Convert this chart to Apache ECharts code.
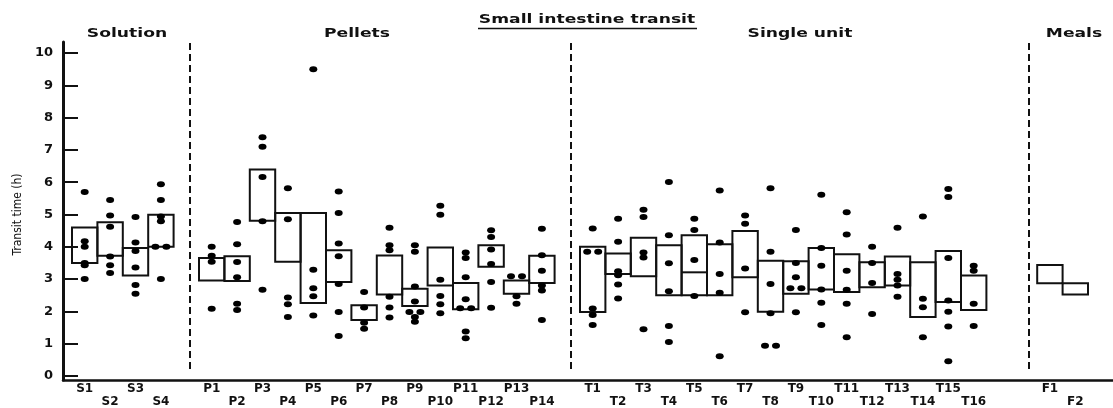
<!DOCTYPE html>
<html>
<head>
<meta charset="utf-8">
<script src="https://cdn.jsdelivr.net/npm/echarts@6/dist/echarts.min.js"></script>
<style>
  html, body { margin: 0; padding: 0; background: #fff; }
  #chart { width: 1113px; height: 408px; }
</style>
</head>
<body>
<div id="chart"></div>
<script>
// categories (blank slots are the gaps between groups)
var cats = ['S1','S2','S3','S4',' ',
  'P1','P2','P3','P4','P5','P6','P7','P8','P9','P10','P11','P12','P13','P14','  ',
  'T1','T2','T3','T4','T5','T6','T7','T8','T9','T10','T11','T12','T13','T14','T15','T16','   ','    ',
  'F1','F2'];

// box bottom / optional inner line / box top (h)
var boxLow = [3.5, 3.72, 3.11, 4.0, null,
  2.96, 2.94, 4.81, 3.54, 2.26, 2.91, 1.73, 2.52, 2.17, 2.8, 2.07, 3.38, 2.55, 2.88, null,
  1.98, 3.16, 3.09, 2.5, 2.5, 2.5, 3.06, 1.99, 2.55, 2.68, 2.6, 2.75, 2.8, 1.83, 2.29, 2.04, null, null,
  2.87, 2.52];
var boxMid = [null, null, null, null, null,
  null, null, null, null, null, null, null, null, null, null, null, null, null, null, null,
  null, null, null, null, 3.21, null, null, null, null, null, null, null, null, null, null, null, null, null,
  null, null];
var boxHigh = [4.6, 4.76, 3.96, 4.99, null,
  3.65, 3.71, 6.39, 5.05, 5.05, 3.89, 2.19, 3.73, 2.7, 3.98, 2.88, 4.05, 2.96, 3.72, null,
  4.0, 3.79, 4.28, 4.05, 4.36, 4.08, 4.49, 3.57, 3.55, 3.96, 3.77, 3.52, 3.7, 3.52, 3.87, 3.11, null, null,
  3.44, 2.87];

// individual subjects (h)
var dots = [
  [5.7, 4.17, 4.0, 3.5, 3.43, 3.0],
  [5.45, 4.97, 4.62, 3.7, 3.43, 3.19],
  [4.92, 4.13, 3.87, 3.36, 2.82, 2.55],
  [5.94, 5.45, 4.94, 4.79, 4.0, 4.0, 3.0],
  [],
  [4.0, 3.72, 3.54, 2.08],
  [4.77, 4.08, 3.53, 3.06, 2.24, 2.04],
  [7.39, 7.1, 6.16, 4.79, 2.67],
  [5.81, 4.85, 2.43, 2.22, 1.83],
  [9.5, 3.29, 2.72, 2.47, 1.87],
  [5.71, 5.05, 4.1, 3.71, 2.85, 1.98, 1.24],
  [2.6, 2.12, 1.65, 1.46],
  [4.59, 4.05, 3.89, 2.45, 2.12, 1.81],
  [4.05, 3.85, 2.77, 2.31, 1.98, 1.98, 1.83, 1.68],
  [5.27, 4.99, 2.98, 2.48, 2.22, 1.94],
  [3.82, 3.65, 3.06, 2.38, 2.1, 2.1, 1.38, 1.17],
  [4.51, 4.3, 3.92, 3.47, 2.91, 2.11],
  [3.09, 3.09, 2.47, 2.24],
  [4.56, 3.74, 3.26, 2.8, 2.65, 1.73],
  [],
  [4.57, 3.85, 3.85, 2.09, 1.89, 1.58],
  [4.87, 4.16, 3.24, 3.12, 2.83, 2.4],
  [5.15, 4.92, 3.82, 3.67, 1.45],
  [6.01, 4.36, 3.49, 2.62, 1.55, 1.05],
  [4.87, 4.52, 3.59, 2.48],
  [5.74, 4.13, 3.16, 2.58, 0.61],
  [4.97, 4.71, 3.33, 1.97],
  [5.81, 3.85, 2.85, 1.94, 0.94, 0.94],
  [4.52, 3.5, 3.06, 2.72, 2.72, 1.97],
  [5.61, 3.96, 3.41, 2.68, 2.27, 1.58],
  [5.07, 4.38, 3.26, 2.67, 2.24, 1.2],
  [4.0, 3.5, 2.88, 1.92],
  [4.59, 3.16, 2.98, 2.8, 2.45],
  [4.94, 2.39, 2.13, 1.2],
  [5.79, 5.54, 3.65, 2.34, 1.99, 1.53, 0.46],
  [3.41, 3.26, 2.24, 1.55],
  [], [],
  [], []
];

// slots holding the dashed group separators
var separators = [4, 19, 37];

var yTicks = [0, 10, 1]; // min, max, step

var ink = '#111';
var font = 'DejaVu Sans';

// boxes
var boxData = [];
for (var i = 0; i < cats.length; i++) {
  if (boxLow[i] == null) continue;
  boxData.push([i, boxLow[i], boxHigh[i]]);
}

// dots; equal values in one column sit side by side
var dotData = [];
dots.forEach(function (list, ci) {
  var seen = {};
  list.forEach(function (v) {
    var n = list.filter(function (w) { return w === v; }).length;
    var k = seen[v] = (seen[v] || 0) + 1;
    var off = n > 1 ? (k - (n + 1) / 2) * 11 : 0;
    dotData.push({ value: [ci, v], symbolOffset: [off, 0] });
  });
});

// wide heading text (the original lettering is an extended face)
function heading(text, cx, cy) {
  return {
    type: 'text', x: cx, y: cy, scaleX: 1.32,
    style: { text: text, x: 0, y: 0, fill: ink, font: 'bold 13px ' + font, textAlign: 'center', textVerticalAlign: 'middle' }
  };
}

var myChart = echarts.init(document.getElementById('chart'));
var option = {
  animation: false,
  backgroundColor: '#fff',
  grid: [
    { left: 63, right: 0, top: 42, bottom: 28 },   // frame
    { left: 72, right: 25, top: 53, bottom: 28 }    // data
  ],
  xAxis: [
    {
      gridIndex: 0, type: 'value', min: 0, max: 1,
      axisLine: { show: true, lineStyle: { color: ink, width: 2.5 } },
      axisTick: { show: false }, axisLabel: { show: false }, splitLine: { show: false }
    },
    {
      gridIndex: 1, type: 'category', data: cats,
      axisLine: { show: false }, axisTick: { show: false }, splitLine: { show: false },
      axisLabel: {
        interval: 0, margin: 6, color: ink, fontFamily: font, fontWeight: 'bold',
        fontSize: 12, lineHeight: 13,
        formatter: function (val) {
          var m = val.match(/\d+/);
          if (!m) return '';
          return (+m[0] % 2 === 1) ? val : '\n' + val;
        }
      }
    }
  ],
  yAxis: [
    {
      gridIndex: 0, type: 'value', min: 0, max: 1,
      axisLine: { show: true, lineStyle: { color: ink, width: 3 } },
      axisTick: { show: false }, axisLabel: { show: false }, splitLine: { show: false }
    },
    {
      gridIndex: 1, type: 'value', min: yTicks[0], max: yTicks[1], interval: yTicks[2],
      offset: 9,
      name: 'Transit time (h)', nameLocation: 'middle', nameGap: 38,
      nameTextStyle: { color: ink, fontSize: 12, fontFamily: "'DejaVu Sans Condensed', 'Liberation Sans', sans-serif" },
      axisLine: { show: false },
      axisTick: { show: true, inside: true, length: 15, lineStyle: { color: ink, width: 2 } },
      axisLabel: { margin: 10, color: ink, fontFamily: font, fontWeight: 'bold', fontSize: 13 },
      splitLine: { show: false }
    }
  ],
  series: [
    {
      // dashed separators between groups
      name: 'separators', type: 'custom', xAxisIndex: 1, yAxisIndex: 1, silent: true,
      data: separators.map(function (s) { return [s]; }),
      renderItem: function (params, api) {
        var p = api.coord([api.value(0), 0]);
        var x = Math.round(p[0] + 4);
        var top = params.coordSys.y - 10;
        return {
          type: 'line',
          shape: { x1: x, y1: top, x2: x, y2: p[1] - 5 },
          style: { stroke: ink, lineWidth: 2, lineDash: [7, 4] }
        };
      }
    },
    {
      name: 'boxes', type: 'custom', xAxisIndex: 1, yAxisIndex: 1, silent: true,
      data: boxData,
      renderItem: function (params, api) {
        var i = api.value(0);
        var lo = api.coord([i, api.value(1)]);
        var hi = api.coord([i, api.value(2)]);
        var w = api.size([1, 0])[0];
        var x0 = lo[0] - w / 2;
        var kids = [{
          type: 'rect',
          shape: { x: x0, y: hi[1], width: w, height: lo[1] - hi[1] },
          style: { fill: 'none', stroke: ink, lineWidth: 2 }
        }];
        var mid = boxMid[i];
        if (mid != null) {
          var m = api.coord([i, mid]);
          kids.push({
            type: 'line',
            shape: { x1: x0, y1: m[1], x2: x0 + w, y2: m[1] },
            style: { stroke: ink, lineWidth: 2 }
          });
        }
        return { type: 'group', children: kids };
      }
    },
    {
      name: 'subjects', type: 'scatter', xAxisIndex: 1, yAxisIndex: 1,
      symbol: 'circle', symbolSize: [8, 6], z: 5,
      itemStyle: { color: '#000', opacity: 1 },
      data: dotData
    }
  ],
  graphic: [
    heading('Small intestine transit', 587, 20),
    { type: 'line', shape: { x1: 478, y1: 28.5, x2: 697, y2: 28.5 }, style: { stroke: ink, lineWidth: 1.5 } },
    heading('Solution', 127, 34),
    heading('Pellets', 357, 34),
    heading('Single unit', 800, 34),
    heading('Meals', 1074, 34)
  ]
};
myChart.setOption(option);
</script>
</body>
</html>
